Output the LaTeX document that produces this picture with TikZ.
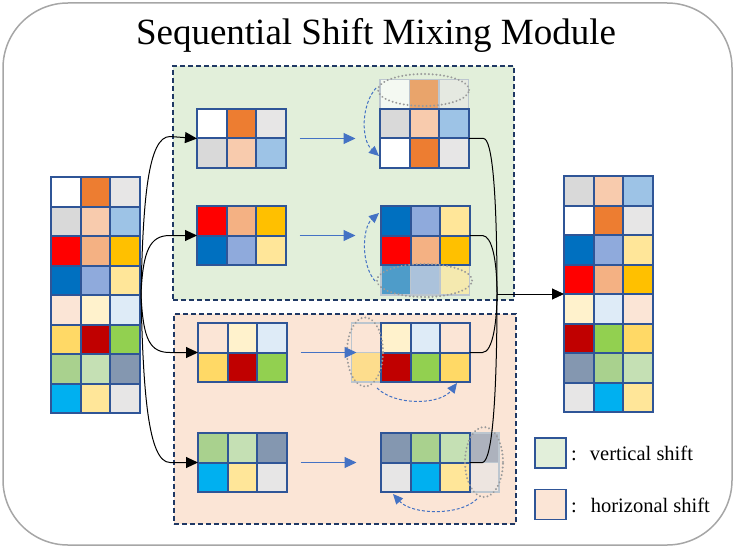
\documentclass[tikz,border=0pt]{standalone}
\usepackage{fontspec}
\setmainfont{Liberation Serif}
\usetikzlibrary{arrows.meta,shapes.geometric}
\definecolor{cB}{HTML}{2F5597}
\definecolor{cW}{HTML}{FFFFFF}
\definecolor{cOr}{HTML}{ED7D31}
\definecolor{cLg}{HTML}{E7E6E6}
\definecolor{cGy}{HTML}{D9D9D9}
\definecolor{cPe}{HTML}{F8CBAD}
\definecolor{cLb}{HTML}{9DC3E6}
\definecolor{cRd}{HTML}{FF0000}
\definecolor{cSa}{HTML}{F4B183}
\definecolor{cGo}{HTML}{FFC000}
\definecolor{cBl}{HTML}{0070C0}
\definecolor{cPw}{HTML}{8FAADC}
\definecolor{cLy}{HTML}{FFE699}
\definecolor{cPk}{HTML}{FBE5D6}
\definecolor{cCr}{HTML}{FFF2CC}
\definecolor{cPb}{HTML}{DEEBF7}
\definecolor{cYe}{HTML}{FFD966}
\definecolor{cDr}{HTML}{C00000}
\definecolor{cGn}{HTML}{92D050}
\definecolor{cSg}{HTML}{A9D18E}
\definecolor{cLs}{HTML}{C5E0B4}
\definecolor{cSl}{HTML}{8497B0}
\definecolor{cCy}{HTML}{00B0F0}
\definecolor{cGreenBg}{HTML}{E2EFDA}
\definecolor{cPinkBg}{HTML}{FBE5D6}
\definecolor{cNavy}{HTML}{1F3864}
\definecolor{cArrow}{HTML}{4472C4}
\definecolor{cGhost}{HTML}{BCC6CF}
\definecolor{cDot}{HTML}{9A9A9A}
\definecolor{cFrame}{HTML}{A6A6A6}
\def\cs{29.5}
\newcommand\cellgrid[3]{%
  \foreach \rr [count=\j from 0] in {#3}{%
    \foreach \cc [count=\i from 0] in \rr {%
      \filldraw[cellstyle, fill=\cc] ({#1+\i*\cs},{#2+\j*\cs}) rectangle ++(\cs,\cs);
    }}}
\newcommand\ghostgrid[3]{%
  \foreach \rr [count=\j from 0] in {#3}{%
    \foreach \cc [count=\i from 0] in \rr {%
      \fill[fill=\cc, fill opacity=0.65] ({#1+\i*\cs},{#2+\j*\cs}) rectangle ++(\cs,\cs);
      \draw[ghostline] ({#1+\i*\cs},{#2+\j*\cs}) rectangle ++(\cs,\cs);
    }}}
\newcommand\blk[5]{%
  \node[inner sep=0pt, outer sep=0pt, minimum width=#4*\cs pt, minimum height=#5*\cs pt, anchor=north west] (#1) at (#2,#3) {};}
\begin{document}
\begin{tikzpicture}[x=1pt,y=-1pt,
  cellstyle/.style={draw=cB, line width=2pt},
  ghostline/.style={draw=cGhost, line width=1.5pt},
  outerbox/.style={draw=cFrame, line width=1.5pt, rounded corners=65pt},
  panel/.style={draw=cNavy, line width=1.8pt, dash pattern=on 5pt off 3pt, inner sep=0pt, anchor=north west},
  ring/.style={ellipse, draw=cDot, line width=2.2pt, dash pattern=on 0.01pt off 3.8pt, line cap=round, inner sep=0pt},
  bluearrow/.style={draw=cArrow, line width=1pt, -{Triangle[length=12pt,width=11pt]}},
  dasharrow/.style={draw=cArrow, line width=1pt, dash pattern=on 3pt off 2pt, -{Triangle[length=10pt,width=9pt]}},
  link/.style={draw=black, line width=1pt},
  linkarrow/.style={draw=black, line width=1pt, -{Triangle[length=12pt,width=11pt]}},
  legendbox/.style={draw=cB, line width=1.8pt, minimum width=31pt, minimum height=30pt, inner sep=0pt},
  legendtext/.style={anchor=base west, inner sep=0pt, font=\fontsize{20.5}{24}\selectfont},
  titletext/.style={anchor=base, inner sep=0pt, font=\fontsize{37}{44}\selectfont}]
\useasboundingbox (0,0) rectangle (751,548);
\draw[outerbox] (3,3) rectangle (732,545);
\node[titletext] (title) at (376,45) {Sequential Shift Mixing Module};
% panels
\node[panel, fill=cGreenBg, minimum width=341pt, minimum height=234pt] (vpanel) at (172,65) {};
\node[panel, fill=cPinkBg, minimum width=342pt, minimum height=210pt] (hpanel) at (173,313) {};
% left column
\blk{L}{51}{177}{3}{8}
\cellgrid{51}{177}{{cW,cOr,cLg},{cGy,cPe,cLb},{cRd,cSa,cGo},{cBl,cPw,cLy},{cPk,cCr,cPb},{cYe,cDr,cGn},{cSg,cLs,cSl},{cCy,cLy,cLg}}
% right column
\blk{R}{564}{176}{3}{8}
\cellgrid{564}{176}{{cGy,cPe,cLb},{cW,cOr,cLg},{cBl,cPw,cLy},{cRd,cSa,cGo},{cCr,cPb,cPk},{cDr,cGn,cYe},{cSl,cSg,cLs},{cLg,cCy,cLy}}
% input blocks
\blk{A}{197}{109}{3}{2}
\cellgrid{197}{109}{{cW,cOr,cLg},{cGy,cPe,cLb}}
\blk{B}{197}{206}{3}{2}
\cellgrid{197}{206}{{cRd,cSa,cGo},{cBl,cPw,cLy}}
\blk{C}{198}{323}{3}{2}
\cellgrid{198}{323}{{cPk,cCr,cPb},{cYe,cDr,cGn}}
\blk{D}{198}{433}{3}{2}
\cellgrid{198}{433}{{cSg,cLs,cSl},{cCy,cLy,cLg}}
% shifted blocks
\blk{gA}{380}{79.5}{3}{1}
\ghostgrid{380}{79.5}{{cW,cOr,cLg}}
\blk{A2}{380}{109}{3}{2}
\cellgrid{380}{109}{{cGy,cPe,cLb},{cW,cOr,cLg}}
\blk{gB}{381}{265.5}{3}{1}
\ghostgrid{381}{265.5}{{cBl,cPw,cLy}}
\blk{B2}{381}{206}{3}{2}
\cellgrid{381}{206}{{cBl,cPw,cLy},{cRd,cSa,cGo}}
\blk{gC}{351.5}{323}{1}{2}
\ghostgrid{351.5}{323}{{cPk},{cYe}}
\blk{C2}{381}{323}{3}{2}
\cellgrid{381}{323}{{cCr,cPb,cPk},{cDr,cGn,cYe}}
\blk{gD}{469.5}{433}{1}{2}
\ghostgrid{469.5}{433}{{cSl},{cLg}}
\blk{D2}{381}{433}{3}{2}
\cellgrid{381}{433}{{cSl,cSg,cLs},{cLg,cCy,cLy}}
% dotted rings
\node[ring, minimum width=91pt, minimum height=32pt] (eA) at (423.5,90) {};
\node[ring, minimum width=95pt, minimum height=33pt] (eB) at (424.5,280.5) {};
\node[ring, minimum width=36pt, minimum height=69pt] (eC) at (365,352) {};
\node[ring, minimum width=38pt, minimum height=70pt] (eD) at (484,462) {};
% blue shift arrows
\foreach \n in {A,B,C,D}{
  \draw[bluearrow] ([xshift=14pt]\n.east) -- ([xshift=70pt]\n.east);
}
% dashed circular arrows
\coordinate (dA1) at (376,88); \coordinate (dA2) at (379,156);
\draw[dasharrow] (dA1) .. controls (361,105) and (361,140) .. (dA2);
\coordinate (dB1) at (375,281); \coordinate (dB2) at (379,213);
\draw[dasharrow] (dB1) .. controls (361,265) and (362,228) .. (dB2);
\coordinate (dC1) at (377,388); \coordinate (dC2) at (457,383);
\draw[dasharrow] (dC1) .. controls (395,406) and (440,405) .. (dC2);
\coordinate (dD1) at (477,499); \coordinate (dD2) at (393,494);
\draw[dasharrow] (dD1) .. controls (460,516) and (412,515) .. (dD2);
% split connectors
\coordinate (S) at (141,294);
\draw[linkarrow] (S) .. controls (143,200) and (148,136.5) .. (170,136.5) -- (A.west);
\draw[linkarrow] (S) .. controls (143,250) and (150,235.5) .. (170,235.5) -- (B.west);
\draw[linkarrow] (S) .. controls (143,340) and (150,352.5) .. (170,352.5) -- (C.west);
\draw[linkarrow] (S) .. controls (143,390) and (148,462.5) .. (170,462.5) -- (D.west);
% merge connectors
\coordinate (J) at (497,294);
\draw[link] (A2.east) -- ++(15,0) .. controls (492,138.5) and (497,190) .. (J);
\draw[link] (B2.east) -- ++(13,0) .. controls (492,236) and (497,260) .. (J);
\draw[link] (C2.east) -- ++(13,0) .. controls (493,352.5) and (497,320) .. (J);
\draw[link] (D2.east) -- ++(13,0) .. controls (492,461) and (497,400) .. (J);
\draw[linkarrow] (J) -- (J -| R.west);
% legend
\node[legendbox, fill=cGreenBg] (lgV) at (550.5,453) {};
\node[legendbox, fill=cPinkBg] (lgH) at (550.5,504.5) {};
\node[legendtext] (tV) at (571,460) {:\hspace{13pt}vertical shift};
\node[legendtext] (tH) at (571,512) {:\hspace{14pt}horizonal shift};
\end{tikzpicture}
\end{document}
